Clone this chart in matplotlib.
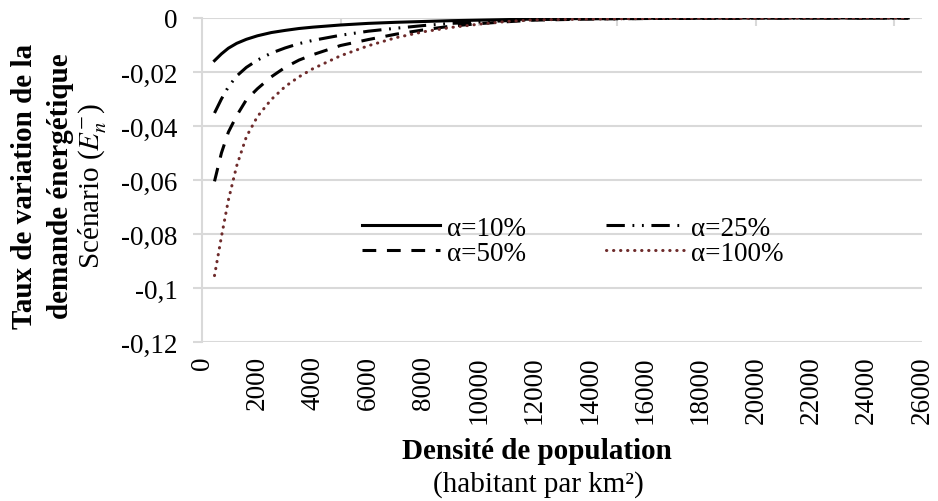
import numpy as np
import matplotlib
matplotlib.use("Agg")
import matplotlib.pyplot as plt

plt.rcParams['font.family'] = ['Liberation Serif', 'DejaVu Serif']
plt.rcParams['mathtext.fontset'] = 'stix'

# densite (habitant par km2)
density = [450, 700, 950, 1250, 1600, 2000, 2500, 3000, 3500, 4000, 5000, 6000,
           7000, 8000, 9000, 10000, 11000, 12000, 14000, 16000, 18000, 20000,
           22000, 24000, 25500]

alpha_10 = [-0.0158, -0.0133, -0.0112, -0.0094, -0.0079, -0.0066, -0.0054, -0.0046,
            -0.0039, -0.0034, -0.0026, -0.0020, -0.0016, -0.0013, -0.0010, -0.0008,
            -0.0006, -0.0004, -0.0002, -0.0001, -0.0001, 0.0, 0.0, 0.0, 0.0]
alpha_25 = [-0.0352, -0.0300, -0.0255, -0.0215, -0.0183, -0.0156, -0.0130, -0.0111,
            -0.0095, -0.0083, -0.0064, -0.0049, -0.0038, -0.0028, -0.0020, -0.0015,
            -0.0010, -0.0006, -0.0003, -0.0002, -0.0001, 0.0, 0.0, 0.0, 0.0]
alpha_50 = [-0.0605, -0.0500, -0.0423, -0.0362, -0.0303, -0.0262, -0.0218, -0.0183,
            -0.0156, -0.0136, -0.0102, -0.0080, -0.0060, -0.0044, -0.0030, -0.0021,
            -0.0014, -0.0008, -0.0004, -0.0002, -0.0001, 0.0, 0.0, 0.0, 0.0]
alpha_100 = [-0.0954, -0.0810, -0.0675, -0.0548, -0.0440, -0.0365, -0.0302, -0.0254,
             -0.0218, -0.0188, -0.0140, -0.0103, -0.0073, -0.0051, -0.0035, -0.0023,
             -0.0013, -0.0007, -0.0004, -0.0002, -0.0001, -0.0001, 0.0, 0.0, 0.0]

yticks = [0, -0.02, -0.04, -0.06, -0.08, -0.1, -0.12]
ytick_labels = ['0', '-0,02', '-0,04', '-0,06', '-0,08', '-0,1', '-0,12']
xticks = list(range(0, 26001, 2000))

fig = plt.figure(figsize=(9.38, 5.02), dpi=100)
ax = fig.add_axes([0.2154, 0.3167, 0.7676, 0.6455])

lw = 2.2
l10, = ax.plot(density, alpha_10, color='black', lw=lw, label='α=10%')
l25, = ax.plot(density, alpha_25, color='black', lw=lw, label='α=25%',
               linestyle=(0, (6, 2.5, 0.6, 2.5, 0.6, 2.5)))
l50, = ax.plot(density, alpha_50, color='black', lw=lw, label='α=50%',
               linestyle=(0, (4.5, 3.5)))
l100, = ax.plot(density, alpha_100, color='#6e2b2b', lw=lw, label='α=100%',
                linestyle=(0, (0.1, 2.2)), dash_capstyle='round')

ax.set_xlim(0, 26000)
ax.set_ylim(-0.12, 0)
ax.set_yticks(yticks)
ax.set_yticklabels(ytick_labels, fontsize=19.5)
ax.set_xticks(xticks)
ax.set_xticklabels([str(t) for t in xticks], rotation=90, fontsize=19.5)
ax.tick_params(axis='x', length=0, pad=9.5)
ax.tick_params(axis='y', length=6.5, width=1.5, color='#d9d9d9', pad=11)
ax.yaxis.grid(True, color='#d9d9d9', lw=1.5)
ax.set_axisbelow(True)
for s in ['top', 'right', 'bottom']:
    ax.spines[s].set_visible(False)
ax.spines['left'].set_color('#d9d9d9')
ax.spines['left'].set_linewidth(1.5)

# small tick marks along the zero line
top = ax.secondary_xaxis('top')
top.set_xticks(range(5000, 26000, 5000))
top.tick_params(direction='in', length=6, width=1.5, color='#d9d9d9', labeltop=False)
top.spines['top'].set_visible(False)

ax.legend(handles=[l10, l50, l25, l100], ncol=2, frameon=False, fontsize=19.5,
          loc='center', bbox_to_anchor=(0.5146, 0.312), handlelength=2.9,
          handletextpad=0.25, columnspacing=2.95, labelspacing=0.0,
          borderpad=0)

# y label (three lines)
fig.text(25 / 938, 1 - 186 / 502, 'Taux de variation de la', rotation=90,
         ha='center', va='center', fontsize=21, fontweight='bold')
fig.text(61 / 938, 1 - 186 / 502, 'demande énergétique', rotation=90,
         ha='center', va='center', fontsize=21, fontweight='bold')
fig.text(93 / 938, 1 - 186 / 502, 'Scénario ($E_n^{-}$)', rotation=90,
         ha='center', va='center', fontsize=21)

# x label
fig.text(537 / 938, 1 - 452 / 502, 'Densité de population', ha='center',
         va='center', fontsize=21, fontweight='bold')
fig.text(538 / 938, 1 - 485 / 502, '(habitant par km²)', ha='center',
         va='center', fontsize=21)

fig.savefig('out.png', dpi=100)
